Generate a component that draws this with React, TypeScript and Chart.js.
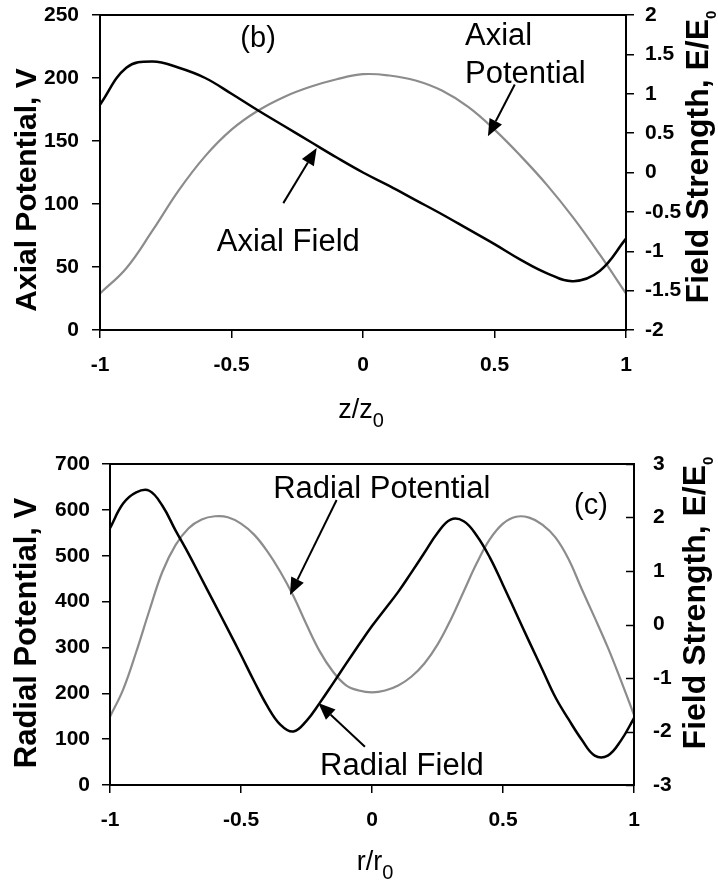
import React, { useEffect, useRef } from 'react';
import { Chart, registerables } from 'chart.js';

Chart.register(...registerables);

// ---------- DATA ----------
const axialZ = [-1, -0.9, -0.8, -0.7, -0.6, -0.5, -0.4, -0.3, -0.2, -0.1, 0, 0.1, 0.2, 0.3, 0.4, 0.5, 0.6, 0.7, 0.8, 0.9, 1];
const axialPotential = [29, 49, 79, 111, 138, 159, 174, 185, 193, 199, 203, 202, 198, 190, 177, 159, 138, 115, 89, 60, 29];
const axialField = [0.86, 1.33, 1.41, 1.33, 1.2, 1.0, 0.79, 0.59, 0.39, 0.19, 0.0, -0.17, -0.35, -0.53, -0.72, -0.91, -1.11, -1.28, -1.38, -1.25, -0.84];

const radialR = [-1, -0.95, -0.9, -0.85, -0.8, -0.75, -0.7, -0.65, -0.6, -0.55, -0.5, -0.45, -0.4, -0.35, -0.3, -0.25, -0.2, -0.15, -0.1, -0.05, 0, 0.05, 0.1, 0.15, 0.2, 0.25, 0.3, 0.35, 0.4, 0.45, 0.5, 0.55, 0.6, 0.65, 0.7, 0.75, 0.8, 0.85, 0.9, 0.95, 1];
const radialPotential = [149, 208, 290, 380, 465, 523, 560, 579, 586, 584, 570, 546, 510, 465, 412, 350, 292, 248, 218, 206, 202, 206, 217, 236, 265, 306, 360, 422, 484, 536, 570, 585, 583, 568, 540, 493, 428, 365, 300, 228, 153];
const radialField = [1.8, 2.26, 2.47, 2.5, 2.22, 1.76, 1.32, 0.85, 0.38, -0.09, -0.57, -1.06, -1.52, -1.87, -2.0, -1.8, -1.47, -1.11, -0.74, -0.38, -0.03, 0.29, 0.61, 0.97, 1.34, 1.71, 1.96, 1.93, 1.66, 1.25, 0.74, 0.21, -0.32, -0.84, -1.36, -1.77, -2.15, -2.45, -2.45, -2.17, -1.75];

const xTickValues = [-1, -0.5, 0, 0.5, 1];
const xTickLabels = ['-1', '-0.5', '0', '0.5', '1'];

const axialLeftRange = [0, 250, 50];
const axialRightRange = [-2, 2, 0.5];
const radialLeftRange = [0, 700, 100];
const radialRightRange = [-3, 3, 1];

// ---------- STYLE ----------
const FONT = 'Liberation Sans, Arial, sans-serif';
const BLACK = '#000000';
const GRAY = '#8c8c8c';

type Label = { text: string; x: number; y: number; size: number; align: CanvasTextAlign; baseline: CanvasTextBaseline };
type ArrowSpec = { fx: number; fy: number; tx: number; ty: number };
type TitleSpec = { main: string; sub?: string; x: number; y: number; size: number; subSize: number; subDrop: number; bold: boolean; rotate: boolean };

type Spec = {
  width: number;
  height: number;
  padTop: number;
  leftW: number;
  rightW: number;
  xH: number;
  xVals: number[];
  potential: number[];
  field: number[];
  left: number[];
  right: number[];
  leftPad: number;
  rightPad: number;
  rightInward: boolean;
  xPad: number;
  labels: Label[];
  arrows: ArrowSpec[];
  titles: TitleSpec[];
};

function drawArrow(ctx: CanvasRenderingContext2D, x0: number, y0: number, x1: number, y1: number) {
  const ang = Math.atan2(y1 - y0, x1 - x0);
  const len = 17;
  const hw = 7;
  const bx = x1 - len * Math.cos(ang);
  const by = y1 - len * Math.sin(ang);
  ctx.save();
  ctx.strokeStyle = BLACK;
  ctx.fillStyle = BLACK;
  ctx.lineWidth = 2;
  ctx.beginPath();
  ctx.moveTo(x0, y0);
  ctx.lineTo(bx, by);
  ctx.stroke();
  ctx.beginPath();
  ctx.moveTo(x1, y1);
  ctx.lineTo(bx + hw * Math.sin(ang), by - hw * Math.cos(ang));
  ctx.lineTo(bx - hw * Math.sin(ang), by + hw * Math.cos(ang));
  ctx.closePath();
  ctx.fill();
  ctx.restore();
}

function drawTitle(ctx: CanvasRenderingContext2D, t: TitleSpec) {
  const w = t.bold ? 'bold ' : '';
  ctx.save();
  ctx.fillStyle = BLACK;
  ctx.textAlign = 'left';
  ctx.textBaseline = 'alphabetic';
  ctx.translate(t.x, t.y);
  if (t.rotate) ctx.rotate(-Math.PI / 2);
  ctx.font = `${w}${t.size}px ${FONT}`;
  const wm = ctx.measureText(t.main).width;
  let ws = 0;
  if (t.sub) {
    ctx.font = `${w}${t.subSize}px ${FONT}`;
    ws = ctx.measureText(t.sub).width;
  }
  const start = -(wm + ws) / 2;
  ctx.font = `${w}${t.size}px ${FONT}`;
  ctx.fillText(t.main, start, 0);
  if (t.sub) {
    ctx.font = `${w}${t.subSize}px ${FONT}`;
    ctx.fillText(t.sub, start + wm, t.subDrop);
  }
  ctx.restore();
}

function makeOverlay(spec: Spec) {
  return {
    id: 'overlay',
    afterDraw(chart: any) {
      const ctx: CanvasRenderingContext2D = chart.ctx;
      const ca = chart.chartArea;
      const sx = chart.scales.x;
      const sy = chart.scales.y;
      const sy2 = chart.scales.y2;
      ctx.save();
      ctx.strokeStyle = BLACK;
      ctx.lineWidth = 2;
      ctx.strokeRect(ca.left, ca.top, ca.right - ca.left, ca.bottom - ca.top);
      if (spec.rightInward) {
        ctx.lineWidth = 1.5;
        sy2.ticks.forEach((t: any) => {
          const yy = Math.round(sy2.getPixelForValue(t.value)) + 0.5;
          ctx.beginPath();
          ctx.moveTo(ca.right - 8, yy);
          ctx.lineTo(ca.right, yy);
          ctx.stroke();
        });
      }
      ctx.restore();
      spec.labels.forEach((l) => {
        ctx.save();
        ctx.fillStyle = BLACK;
        ctx.font = `${l.size}px ${FONT}`;
        ctx.textAlign = l.align;
        ctx.textBaseline = l.baseline;
        ctx.fillText(l.text, sx.getPixelForValue(l.x), sy.getPixelForValue(l.y));
        ctx.restore();
      });
      spec.arrows.forEach((a) => {
        drawArrow(ctx, sx.getPixelForValue(a.fx), sy.getPixelForValue(a.fy), sx.getPixelForValue(a.tx), sy.getPixelForValue(a.ty));
      });
      spec.titles.forEach((t) => drawTitle(ctx, t));
    },
  };
}

const fmt = (v: number) => String(parseFloat(Number(v).toFixed(3)));

function buildConfig(spec: Spec): any {
  const tickFont = { family: FONT, size: 21, weight: 'bold' as const };
  const grid = (drawTicks: boolean) => ({
    display: true,
    drawOnChartArea: false,
    drawTicks,
    tickLength: 8,
    color: BLACK,
    lineWidth: 1.5,
  });
  const noPadV = (s: any) => {
    s.paddingTop = 0;
    s.paddingBottom = 0;
  };
  return {
    type: 'line',
    data: {
      datasets: [
        {
          label: 'Field',
          data: spec.xVals.map((x, i) => ({ x, y: spec.field[i] })),
          yAxisID: 'y2',
          borderColor: BLACK,
          borderWidth: 2.5,
          pointRadius: 0,
          tension: 0.4,
          fill: false,
          order: 0,
        },
        {
          label: 'Potential',
          data: spec.xVals.map((x, i) => ({ x, y: spec.potential[i] })),
          yAxisID: 'y',
          borderColor: GRAY,
          borderWidth: 2.2,
          pointRadius: 0,
          tension: 0.4,
          fill: false,
          order: 1,
        },
      ],
    },
    options: {
      responsive: false,
      animation: false,
      devicePixelRatio: 1,
      layout: { padding: { top: spec.padTop, left: 0, right: 0, bottom: 0 } },
      plugins: { legend: { display: false }, tooltip: { enabled: false }, title: { display: false } },
      scales: {
        x: {
          type: 'linear',
          min: -1,
          max: 1,
          afterBuildTicks: (s: any) => {
            s.ticks = xTickValues.map((v) => ({ value: v }));
          },
          ticks: {
            font: tickFont,
            color: BLACK,
            padding: spec.xPad,
            maxRotation: 0,
            autoSkip: false,
            callback: (v: number) => {
              const i = xTickValues.indexOf(v);
              return i >= 0 ? xTickLabels[i] : '';
            },
          },
          grid: grid(true),
          border: { display: true, color: BLACK, width: 2 },
          afterFit: (s: any) => {
            s.height = spec.xH;
            s.paddingLeft = 0;
            s.paddingRight = 0;
          },
        },
        y: {
          type: 'linear',
          position: 'left',
          min: spec.left[0],
          max: spec.left[1],
          ticks: { stepSize: spec.left[2], font: tickFont, color: BLACK, padding: spec.leftPad, callback: fmt },
          grid: grid(true),
          border: { display: true, color: BLACK, width: 2 },
          afterFit: (s: any) => {
            s.width = spec.leftW;
            noPadV(s);
          },
        },
        y2: {
          type: 'linear',
          position: 'right',
          min: spec.right[0],
          max: spec.right[1],
          ticks: { stepSize: spec.right[2], font: tickFont, color: BLACK, padding: spec.rightPad, callback: fmt },
          grid: grid(!spec.rightInward),
          border: { display: true, color: BLACK, width: 2 },
          afterFit: (s: any) => {
            s.width = spec.rightW;
            noPadV(s);
          },
        },
      },
    },
    plugins: [makeOverlay(spec)],
  };
}

const topSpec: Spec = {
  width: 718,
  height: 430,
  padTop: 15,
  leftW: 100,
  rightW: 92,
  xH: 100,
  xVals: axialZ,
  potential: axialPotential,
  field: axialField,
  left: axialLeftRange,
  right: axialRightRange,
  leftPad: 13,
  rightPad: 11,
  rightInward: false,
  xPad: 15,
  labels: [
    { text: '(b)', x: -0.399, y: 231, size: 29, align: 'center', baseline: 'middle' },
    { text: 'Axial', x: 0.388, y: 226.5, size: 31, align: 'left', baseline: 'alphabetic' },
    { text: 'Potential', x: 0.388, y: 196.3, size: 31, align: 'left', baseline: 'alphabetic' },
    { text: 'Axial Field', x: -0.556, y: 62.8, size: 31, align: 'left', baseline: 'alphabetic' },
  ],
  arrows: [
    { fx: 0.577, fy: 194.8, tx: 0.475, ty: 153.7 },
    { fx: -0.303, fy: 100.7, tx: -0.176, ty: 144.4 },
  ],
  titles: [
    { main: 'Axial Potential, V', x: 36, y: 190, size: 30, subSize: 0, subDrop: 0, bold: true, rotate: true },
    { main: 'Field Strength, E/E', sub: '0', x: 708, y: 157, size: 32, subSize: 15, subDrop: 8, bold: true, rotate: true },
    { main: 'z/z', sub: '0', x: 361, y: 418, size: 27, subSize: 20, subDrop: 9, bold: false, rotate: false },
  ],
};

const bottomSpec: Spec = {
  width: 718,
  height: 454,
  padTop: 34,
  leftW: 110,
  rightW: 84,
  xH: 99,
  xVals: radialR,
  potential: radialPotential,
  field: radialField,
  left: radialLeftRange,
  right: radialRightRange,
  leftPad: 12,
  rightPad: 19,
  rightInward: true,
  xPad: 15,
  labels: [
    { text: 'Radial Potential', x: -0.377, y: 626, size: 31, align: 'left', baseline: 'alphabetic' },
    { text: '(c)', x: 0.836, y: 608, size: 29, align: 'center', baseline: 'middle' },
    { text: 'Radial Field', x: -0.198, y: 22.4, size: 31, align: 'left', baseline: 'alphabetic' },
  ],
  arrows: [
    { fx: -0.135, fy: 621.6, tx: -0.313, ty: 414.6 },
    { fx: -0.027, fy: 83.4, tx: -0.205, ty: 178.6 },
  ],
  titles: [
    { main: 'Radial Potential, V', x: 36, y: 203, size: 31, subSize: 0, subDrop: 0, bold: true, rotate: true },
    { main: 'Field Strength, E/E', sub: '0', x: 705, y: 173, size: 32, subSize: 15, subDrop: 8, bold: true, rotate: true },
    { main: 'r/r', sub: '0', x: 375, y: 440, size: 27, subSize: 20, subDrop: 9, bold: false, rotate: false },
  ],
};

function ChartCanvas({ spec }: { spec: Spec }) {
  const ref = useRef<HTMLCanvasElement | null>(null);
  useEffect(() => {
    if (!ref.current) return;
    const chart = new Chart(ref.current, buildConfig(spec));
    return () => chart.destroy();
  }, [spec]);
  return (
    <canvas
      ref={ref}
      width={spec.width}
      height={spec.height}
      style={{ display: 'block', width: spec.width, height: spec.height }}
    />
  );
}

export default function App() {
  useEffect(() => {
    document.body.style.margin = '0';
  }, []);
  return (
    <div style={{ position: 'absolute', left: 0, top: 0, width: 718, height: 884, background: '#ffffff' }}>
      <ChartCanvas spec={topSpec} />
      <ChartCanvas spec={bottomSpec} />
    </div>
  );
}
